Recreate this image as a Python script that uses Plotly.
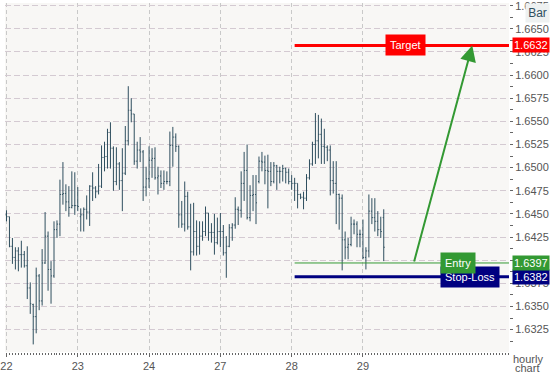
import plotly.graph_objects as go

# ---------------- data (hourly OHLC) ----------------
day_labels = ["22", "23", "24", "27", "28", "29"]
bars_per_day = 24

open_ = [1.6449, 1.6447, 1.6415, 1.6403, 1.6410, 1.6406, 1.6406, 1.6394, 1.6370, 1.6352,
         1.6339, 1.6383, 1.6356, 1.6397, 1.6426, 1.6390, 1.6383, 1.6433, 1.6439, 1.6471,
         1.6472, 1.6463, 1.6457, 1.6459, 1.6459, 1.6447, 1.6449, 1.6455, 1.6452, 1.6480,
         1.6478, 1.6474, 1.6480, 1.6511, 1.6512, 1.6538, 1.6521, 1.6485, 1.6504, 1.6486,
         1.6494, 1.6529, 1.6562, 1.6558, 1.6507, 1.6519, 1.6517, 1.6479, 1.6488, 1.6508,
         1.6510, 1.6489, 1.6491, 1.6483, 1.6485, 1.6485, 1.6524, 1.6533, 1.6523, 1.6449,
         1.6439, 1.6469, 1.6436, 1.6409, 1.6431, 1.6415, 1.6426, 1.6431, 1.6451, 1.6430,
         1.6430, 1.6419, 1.6431, 1.6431, 1.6408, 1.6415, 1.6435, 1.6438, 1.6455, 1.6454,
         1.6483, 1.6497, 1.6446, 1.6470, 1.6471, 1.6485, 1.6507, 1.6506, 1.6497, 1.6496,
         1.6485, 1.6502, 1.6496, 1.6496, 1.6499, 1.6495, 1.6485, 1.6483, 1.6483, 1.6471,
         1.6468, 1.6467, 1.6489, 1.6504, 1.6525, 1.6529, 1.6536, 1.6523, 1.6522, 1.6519,
         1.6486, 1.6483, 1.6471, 1.6467, 1.6422, 1.6414, 1.6417, 1.6439, 1.6439, 1.6428,
         1.6428, 1.6403, 1.6410, 1.6453, 1.6446, 1.6442, 1.6433, 1.6446]
high = [1.6454, 1.6447, 1.6424, 1.6414, 1.6414, 1.6421, 1.6410, 1.6415, 1.6376, 1.6353,
        1.6392, 1.6385, 1.6412, 1.6452, 1.6431, 1.6399, 1.6442, 1.6443, 1.6487, 1.6506,
        1.6482, 1.6480, 1.6496, 1.6495, 1.6479, 1.6456, 1.6457, 1.6470, 1.6481, 1.6495,
        1.6480, 1.6504, 1.6524, 1.6528, 1.6542, 1.6549, 1.6523, 1.6522, 1.6506, 1.6521,
        1.6545, 1.6588, 1.6575, 1.6558, 1.6528, 1.6533, 1.6519, 1.6501, 1.6523, 1.6521,
        1.6522, 1.6501, 1.6497, 1.6497, 1.6496, 1.6539, 1.6544, 1.6537, 1.6524, 1.6464,
        1.6485, 1.6474, 1.6461, 1.6462, 1.6443, 1.6442, 1.6442, 1.6458, 1.6451, 1.6440,
        1.6450, 1.6446, 1.6451, 1.6438, 1.6426, 1.6439, 1.6440, 1.6468, 1.6458, 1.6496,
        1.6517, 1.6525, 1.6481, 1.6492, 1.6492, 1.6512, 1.6517, 1.6513, 1.6514, 1.6506,
        1.6506, 1.6503, 1.6501, 1.6503, 1.6500, 1.6499, 1.6492, 1.6489, 1.6483, 1.6472,
        1.6474, 1.6493, 1.6509, 1.6528, 1.6559, 1.6557, 1.6553, 1.6542, 1.6524, 1.6524,
        1.6507, 1.6507, 1.6472, 1.6471, 1.6431, 1.6424, 1.6447, 1.6444, 1.6442, 1.6433,
        1.6444, 1.6414, 1.6471, 1.6467, 1.6467, 1.6453, 1.6447, 1.6455]
low = [1.6442, 1.6414, 1.6396, 1.6390, 1.6388, 1.6392, 1.6392, 1.6358, 1.6342, 1.6309,
       1.6321, 1.6346, 1.6351, 1.6396, 1.6367, 1.6353, 1.6381, 1.6424, 1.6426, 1.6460,
       1.6453, 1.6447, 1.6456, 1.6449, 1.6453, 1.6431, 1.6431, 1.6444, 1.6437, 1.6464,
       1.6467, 1.6471, 1.6478, 1.6496, 1.6499, 1.6499, 1.6475, 1.6481, 1.6476, 1.6453,
       1.6492, 1.6524, 1.6549, 1.6503, 1.6499, 1.6506, 1.6464, 1.6469, 1.6478, 1.6489,
       1.6487, 1.6471, 1.6478, 1.6476, 1.6482, 1.6480, 1.6501, 1.6517, 1.6435, 1.6435,
       1.6431, 1.6433, 1.6389, 1.6405, 1.6405, 1.6406, 1.6421, 1.6426, 1.6421, 1.6419,
       1.6406, 1.6417, 1.6414, 1.6405, 1.6381, 1.6414, 1.6421, 1.6434, 1.6438, 1.6446,
       1.6464, 1.6444, 1.6442, 1.6453, 1.6439, 1.6483, 1.6496, 1.6482, 1.6456, 1.6480,
       1.6483, 1.6476, 1.6483, 1.6485, 1.6483, 1.6482, 1.6476, 1.6464, 1.6456, 1.6466,
       1.6455, 1.6464, 1.6487, 1.6502, 1.6504, 1.6510, 1.6504, 1.6504, 1.6507, 1.6470,
       1.6472, 1.6439, 1.6433, 1.6389, 1.6401, 1.6401, 1.6415, 1.6428, 1.6414, 1.6414,
       1.6401, 1.6390, 1.6403, 1.6439, 1.6431, 1.6426, 1.6424, 1.6399]
close = [1.6447, 1.6415, 1.6403, 1.6410, 1.6406, 1.6406, 1.6394, 1.6370, 1.6353, 1.6339,
         1.6383, 1.6356, 1.6397, 1.6426, 1.6390, 1.6383, 1.6433, 1.6439, 1.6471, 1.6472,
         1.6463, 1.6457, 1.6459, 1.6459, 1.6458, 1.6449, 1.6455, 1.6452, 1.6480, 1.6478,
         1.6474, 1.6480, 1.6511, 1.6512, 1.6538, 1.6521, 1.6485, 1.6504, 1.6486, 1.6494,
         1.6529, 1.6562, 1.6558, 1.6507, 1.6519, 1.6517, 1.6479, 1.6488, 1.6508, 1.6510,
         1.6489, 1.6491, 1.6483, 1.6485, 1.6485, 1.6524, 1.6533, 1.6523, 1.6449, 1.6439,
         1.6469, 1.6436, 1.6409, 1.6431, 1.6415, 1.6426, 1.6431, 1.6451, 1.6430, 1.6430,
         1.6419, 1.6431, 1.6431, 1.6408, 1.6415, 1.6435, 1.6438, 1.6455, 1.6454, 1.6483,
         1.6497, 1.6446, 1.6470, 1.6471, 1.6462, 1.6507, 1.6506, 1.6497, 1.6496, 1.6485,
         1.6502, 1.6496, 1.6496, 1.6499, 1.6495, 1.6485, 1.6483, 1.6483, 1.6471, 1.6468,
         1.6467, 1.6489, 1.6504, 1.6525, 1.6529, 1.6536, 1.6523, 1.6522, 1.6519, 1.6486,
         1.6483, 1.6471, 1.6467, 1.6422, 1.6414, 1.6417, 1.6439, 1.6439, 1.6428, 1.6428,
         1.6403, 1.6410, 1.6453, 1.6446, 1.6442, 1.6433, 1.6431, 1.6414]

target_level = 1.6632
entry_level = 1.6397
stop_level = 1.6382

# ---------------- figure ----------------
FONT = "Liberation Sans"
BAR_COLOR = "#2f4f5f"
GREEN = "#339933"
RED = "#ff0000"
NAVY = "#000080"

hours = list(range(len(open_)))
x_min, x_max = -0.5, 169.1667
level_start = 97

fig = go.Figure()
fig.add_trace(go.Ohlc(
    x=hours, open=open_, high=high, low=low, close=close,
    increasing=dict(line=dict(color=BAR_COLOR, width=1)),
    decreasing=dict(line=dict(color=BAR_COLOR, width=1)),
    tickwidth=0.34, hoverinfo="skip", showlegend=False,
))

# trade levels
for lvl, col, w in [(target_level, RED, 3), (entry_level, GREEN, 1), (stop_level, NAVY, 3)]:
    fig.add_shape(type="line", xref="x", yref="y", x0=level_start, x1=x_max + 2,
                  y0=lvl, y1=lvl, line=dict(color=col, width=w))

annos = []
# in-chart labels
annos.append(dict(xref="x", yref="y", x=134.4, y=target_level, text="Target",
                  showarrow=False, xanchor="center", yanchor="middle",
                  bgcolor=RED, borderpad=4, font=dict(color="white", size=11, family=FONT)))
annos.append(dict(xref="x", yref="y", x=145.8, y=stop_level, text="Stop-Loss",
                  showarrow=False, xanchor="left", yanchor="middle",
                  bgcolor=NAVY, borderpad=4, font=dict(color="white", size=11, family=FONT)))
annos.append(dict(xref="x", yref="y", x=145.8, y=entry_level, text="Entry",
                  showarrow=False, xanchor="left", yanchor="middle",
                  bgcolor=GREEN, borderpad=4, font=dict(color="white", size=11, family=FONT)))
# axis value labels
for lvl, col in [(target_level, RED), (stop_level, NAVY), (entry_level, GREEN)]:
    annos.append(dict(xref="paper", yref="y", x=1, y=lvl, xshift=3, text=f"{lvl:.4f}",
                      showarrow=False, xanchor="left", yanchor="middle",
                      bgcolor=col, borderpad=1, font=dict(color="white", size=11, family=FONT)))
# arrow from entry to target
annos.append(dict(xref="x", yref="y", axref="x", ayref="y",
                  x=156.8, y=target_level, ax=137.1, ay=entry_level,
                  text="", showarrow=True, arrowhead=2, arrowsize=1.6, arrowwidth=2,
                  arrowcolor=GREEN, standoff=0, startstandoff=0))
# corner texts
annos.append(dict(xref="paper", yref="paper", x=1, y=1, xshift=41, yshift=0,
                  text="Bar", showarrow=False, xanchor="right", yanchor="top",
                  bgcolor="#eef1f1", borderpad=1, width=21, height=16,
                  font=dict(color=BAR_COLOR, size=12, family=FONT)))
annos.append(dict(xref="paper", yref="paper", x=1, y=0, xshift=2, yshift=-7,
                  text="hourly", showarrow=False, xanchor="left", yanchor="middle",
                  font=dict(color="#555555", size=11, family=FONT)))
annos.append(dict(xref="paper", yref="paper", x=1, y=0, xshift=4, yshift=-16,
                  text="chart", showarrow=False, xanchor="left", yanchor="middle",
                  font=dict(color="#555555", size=11, family=FONT)))

fig.update_layout(
    width=550, height=375,
    margin=dict(l=0, r=41, t=0, b=23),
    paper_bgcolor="white", plot_bgcolor="#f8f7f5",
    font=dict(family=FONT, size=11, color="#555555"),
    showlegend=False,
    annotations=annos,
    xaxis=dict(
        range=[x_min, x_max],
        rangeslider=dict(visible=False),
        tickmode="array",
        tickvals=[i * bars_per_day for i in range(len(day_labels))],
        ticktext=day_labels,
        ticks="outside", ticklen=4, tickcolor="#666666",
        showgrid=True, gridcolor="#c9c9c9", griddash="4px,3px", gridwidth=1,
        minor=dict(tick0=0, dtick=1, ticks="outside", ticklen=2, tickwidth=1,
                   tickcolor="#666666", showgrid=False),
        showline=False, zeroline=False,
        ticklabeloverflow="allow",
        tickfont=dict(size=11, color="#555555"),
    ),
    yaxis=dict(
        range=[1.63008, 1.66779],
        side="right",
        tick0=1.6, dtick=0.0025, tickformat=".4f",
        ticks="outside", ticklen=3, tickcolor="#666666",
        showgrid=True, gridcolor="#d4cad2", griddash="6px,3px", gridwidth=1,
        minor=dict(dtick=0.00125, ticks="outside", ticklen=3, tickcolor="#666666",
                   showgrid=False),
        showline=False, zeroline=False,
        ticklabeloverflow="allow",
        tickfont=dict(size=11, color="#555555"),
    ),
)

fig.write_html("out.html")
